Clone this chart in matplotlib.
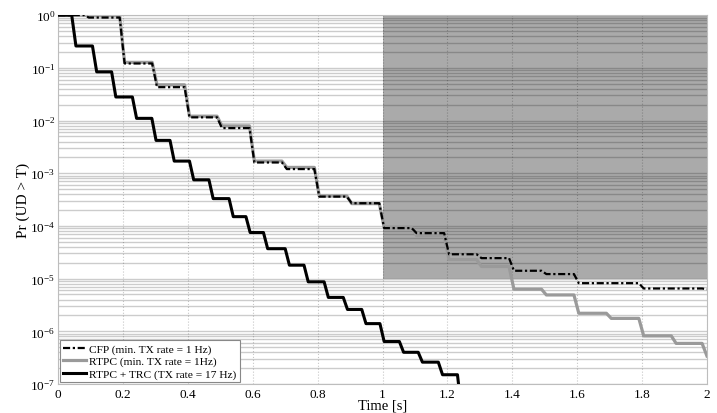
import numpy as np
import matplotlib
matplotlib.use('Agg')
import matplotlib.pyplot as plt
from matplotlib.ticker import LogLocator, FixedLocator, FormatStrFormatter, NullFormatter

plt.rcParams['font.family'] = ['Liberation Serif', 'DejaVu Serif']
plt.rcParams['mathtext.fontset'] = 'custom'
plt.rcParams['mathtext.rm'] = 'Liberation Serif'
plt.rcParams['mathtext.it'] = 'Liberation Serif:italic'

# step times (start of each drop) and levels
t_cfp = [0.08, 0.19, 0.29, 0.39, 0.49, 0.59, 0.69, 0.79, 0.89, 0.99,
         1.09, 1.19, 1.29, 1.39, 1.49, 1.59, 1.69, 1.79, 1.89, 1.985]
p_cfp = [1.0, 0.90, 0.121, 0.043, 0.0115, 7.2e-3, 1.6e-3, 1.2e-3, 3.6e-4, 2.7e-4,
         9.1e-5, 7.3e-5, 2.9e-5, 2.45e-5, 1.41e-5, 1.22e-5, 8.2e-6, 8.2e-6, 6.5e-6, 6.5e-6, 6.3e-6]

t_rtpc = t_cfp
p_rtpc = [1.0, 0.97, 0.127, 0.0476, 0.0121, 7.9e-3, 1.7e-3, 1.29e-3, 3.7e-4, 2.65e-4,
          9.4e-5, 6.5e-5, 2.3e-5, 1.7e-5, 6.3e-6, 4.9e-6, 2.2e-6, 1.76e-6, 8.2e-7, 5.9e-7, 3.4e-7]

t_trc = [0.042, 0.106, 0.165, 0.229, 0.289, 0.345, 0.405, 0.465, 0.527, 0.579, 0.633,
         0.700, 0.758, 0.820, 0.879, 0.936, 0.992, 1.052, 1.110, 1.172, 1.231]
p_trc = [1.0, 0.26, 0.084, 0.028, 0.011, 4.2e-3, 1.7e-3, 7.5e-4, 3.3e-4, 1.5e-4, 7.5e-5,
         3.7e-5, 1.8e-5, 8.7e-6, 4.4e-6, 2.6e-6, 1.4e-6, 6.4e-7, 4.0e-7, 2.6e-7, 1.5e-7, 3e-8]

labels = ['CFP (min. TX rate = 1 Hz)', 'RTPC (min. TX rate = 1Hz)', 'RTPC + TRC (TX rate = 17 Hz)']
x_ticks = [0, 0.2, 0.4, 0.6, 0.8, 1.0, 1.2, 1.4, 1.6, 1.8, 2.0]


def staircase(t_drop, levels, dur):
    xs = [0.0]
    ys = [levels[0]]
    for t, a, b in zip(t_drop, levels[:-1], levels[1:]):
        xs += [t, t + dur]
        ys += [a, b]
    xs.append(2.0)
    ys.append(levels[-1])
    return xs, ys


fig = plt.figure(figsize=(7.17, 4.14), dpi=100)
ax = fig.add_axes([0.081, 0.070, 0.905, 0.891])

ax.set_yscale('log')
ax.set_xlim(0, 2)
ax.set_ylim(1e-7, 1)

# shaded region
ax.fill_between([1.0, 2.0], [1e-5, 1e-5], [1.0, 1.0], color='#aaaaaa', lw=0, zorder=0.3)

x, y = staircase(t_rtpc, p_rtpc, 0.015)
l2, = ax.plot(x, y, color='#9a9a9a', lw=2.3, zorder=2)
x, y = staircase(t_cfp, p_cfp, 0.015)
l1, = ax.plot(x, y, color='black', lw=1.6, linestyle=(0, (3.2, 1.2, 1, 1.2)), zorder=3)
x, y = staircase(t_trc, p_trc, 0.013)
l3, = ax.plot(x, y, color='black', lw=2.2, zorder=4)

ax.set_axisbelow(True)
ax.xaxis.set_major_locator(FixedLocator(x_ticks))
ax.xaxis.set_major_formatter(FormatStrFormatter('%g'))
ax.yaxis.set_major_locator(LogLocator(base=10, numticks=10))
ax.yaxis.set_minor_locator(LogLocator(base=10, subs=np.arange(2, 10), numticks=100))
ax.yaxis.set_minor_formatter(NullFormatter())
ax.grid(True, axis='y', which='both', color='black', alpha=0.2, lw=1.0, linestyle='-')
ax.grid(True, axis='x', which='major', color='black', alpha=0.22, lw=0.8, linestyle=':')
ax.tick_params(which='both', direction='in', labelsize=9.5, length=0, pad=3)
ax.tick_params(axis='y', pad=2)

for s in ax.spines.values():
    s.set_color('#bdbdbd')
    s.set_linewidth(0.8)

ax.set_xlabel('Time [s]', fontsize=10.5, labelpad=-1)
ax.set_ylabel('Pr (UD > T)', fontsize=11, labelpad=0)

leg = ax.legend([l1, l2, l3], labels, loc='lower left', fontsize=8.2, handlelength=2.0,
                borderaxespad=0.15, fancybox=False, framealpha=1, edgecolor='#888888',
                borderpad=0.3, labelspacing=0.2, handletextpad=0.3)
leg.get_frame().set_linewidth(0.8)

fig.savefig('out.png', dpi=100)
